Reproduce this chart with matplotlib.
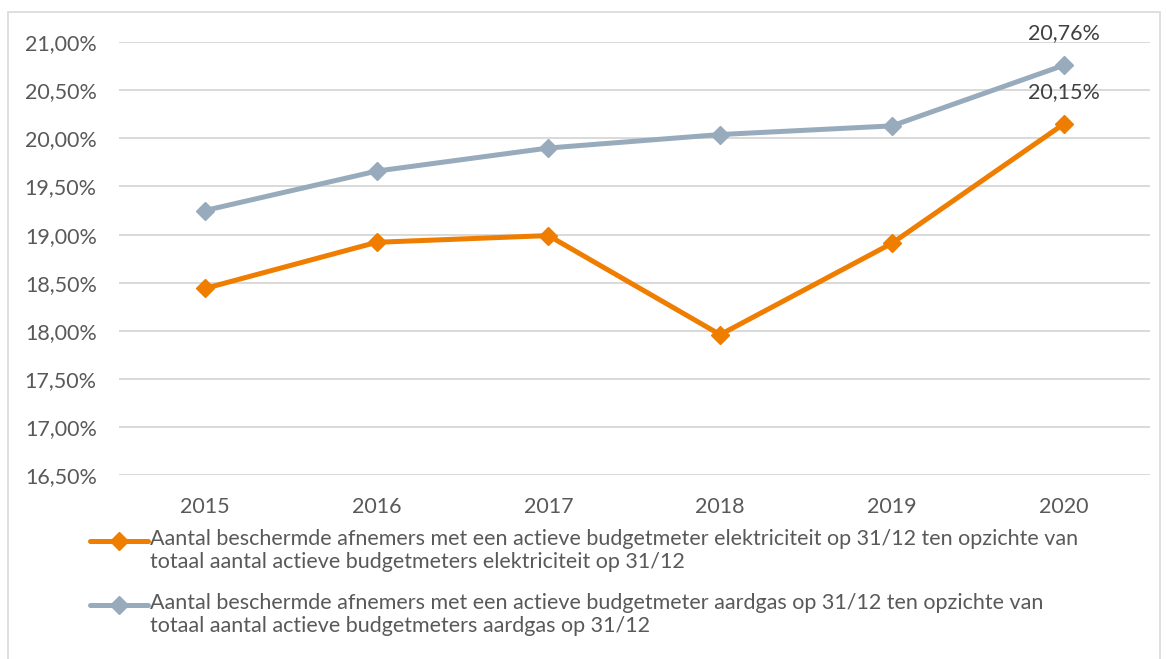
import matplotlib
matplotlib.use("Agg")
import matplotlib.pyplot as plt
from matplotlib.ticker import FuncFormatter, MultipleLocator
from matplotlib.lines import Line2D
from matplotlib.patches import Rectangle

years = ["2015", "2016", "2017", "2018", "2019", "2020"]
elek = [18.44, 18.92, 18.99, 17.96, 18.91, 20.15]
gas = [19.25, 19.66, 19.90, 20.04, 20.13, 20.76]
labels = [
    "Aantal beschermde afnemers met een actieve budgetmeter elektriciteit op 31/12 ten opzichte van\n"
    "totaal aantal actieve budgetmeters elektriciteit op 31/12",
    "Aantal beschermde afnemers met een actieve budgetmeter aardgas op 31/12 ten opzichte van\n"
    "totaal aantal actieve budgetmeters aardgas op 31/12",
]

plt.rcParams['font.family'] = ['Lato', 'DejaVu Sans']
txt = '#595959'
orange = '#ef7d00'
grey = '#98abbc'
fs = 15.5
ms = 9.5


def pct(v, pos=None):
    return f"{v:.2f}".replace('.', ',') + '%'


fig = plt.figure(figsize=(11.66, 6.59), dpi=100)
ax = fig.add_axes([0.102, 0.279, 0.884, 0.657])

# outer chart frame
fig.add_artist(Rectangle((8 / 1166, -0.05), 1152 / 1166, 1 - 12 / 659 + 0.05,
                         transform=fig.transFigure, fill=False,
                         edgecolor='#d9d9d9', linewidth=1.2))

x = range(len(years))
ax.plot(x, elek, color=orange, lw=3.6, marker='D', ms=ms, zorder=3)
ax.plot(x, gas, color=grey, lw=3.6, marker='D', ms=ms, zorder=3)

ax.annotate(pct(gas[-1]), (5, gas[-1]), xytext=(0, 23), textcoords='offset points',
            ha='center', va='center', fontsize=fs, color='#404040')
ax.annotate(pct(elek[-1]), (5, elek[-1]), xytext=(0, 23), textcoords='offset points',
            ha='center', va='center', fontsize=fs, color='#404040')

ax.set_xlim(-0.5, 5.5)
ax.set_ylim(16.5, 21.0)
ax.yaxis.set_major_locator(MultipleLocator(0.5))
ax.yaxis.set_major_formatter(FuncFormatter(pct))
ax.set_xticks(list(x))
ax.set_xticklabels(years)
ax.grid(axis='y', color='#d9d9d9', lw=1.4)
ax.set_axisbelow(True)
for s in ax.spines.values():
    s.set_visible(False)
ax.tick_params(length=0, labelsize=fs, colors=txt)
ax.tick_params(axis='y', pad=16)
ax.tick_params(axis='x', pad=16)

# legend, drawn by hand so the marker sits on the first text line
for i, (lab, col) in enumerate(zip(labels, [orange, grey])):
    y0 = 1 - (541 + i * 64) / 659
    fig.add_artist(Line2D([90 / 1166, 148 / 1166], [y0, y0], transform=fig.transFigure,
                          color=col, lw=3.6, solid_capstyle='round'))
    fig.add_artist(Line2D([119 / 1166], [y0], transform=fig.transFigure,
                          color=col, marker='D', ms=ms, lw=0))
    fig.text(150 / 1166, y0 + 12 / 659, lab, fontsize=fs, color=txt, va='top',
             linespacing=1.2)

fig.savefig("out.png", dpi=100)
